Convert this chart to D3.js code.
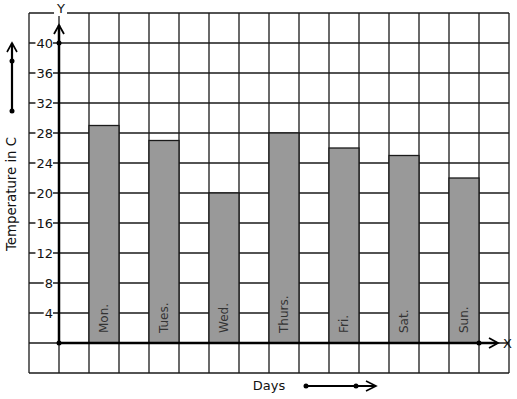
<!DOCTYPE html>
<html>
<head>
<meta charset="utf-8">
<script src="https://cdn.jsdelivr.net/npm/d3@7"></script>
<style>
  body { margin: 0; background: #fff; }
  text { font-family: "DejaVu Sans", sans-serif; }
</style>
</head>
<body>
<svg id="chart" width="517" height="399"></svg>
<script>
const days = ["Mon.", "Tues.", "Wed.", "Thurs.", "Fri.", "Sat.", "Sun."];
const temps = [29, 27, 20, 28, 26, 25, 22];
const yTicks = [4, 8, 12, 16, 20, 24, 28, 32, 36, 40];

const svg = d3.select("#chart");

// grid in column units (16 columns), value units for y
const xcol = d3.scaleLinear().domain([0, 16]).range([29, 509]);
const y = d3.scaleLinear().domain([0, 40]).range([343, 43]);

const ink = "#1a1a1a";

// grid
const grid = svg.append("g").attr("stroke", ink).attr("stroke-width", 1.3);
d3.range(0, 17).forEach(c => {
    grid.append("line")
        .attr("x1", xcol(c)).attr("x2", xcol(c))
        .attr("y1", y(44)).attr("y2", y(-4));
});
d3.range(-4, 45, 4).forEach(v => {
    grid.append("line")
        .attr("x1", xcol(0)).attr("x2", xcol(16))
        .attr("y1", y(v)).attr("y2", y(v));
});

// white backings for labels sitting on grid lines
const backs = svg.append("g");
const labels = svg.append("g");

// bars
const colOf = i => 2 + 2 * i;
svg.append("g").selectAll("rect")
    .data(temps)
    .join("rect")
    .attr("x", (d, i) => xcol(colOf(i)))
    .attr("width", xcol(1) - xcol(0))
    .attr("y", d => y(d))
    .attr("height", d => y(0) - y(d))
    .attr("fill", "#999")
    .attr("stroke", ink)
    .attr("stroke-width", 1.3);

// day labels inside bars
svg.append("g").selectAll("text")
    .data(days)
    .join("text")
    .attr("transform", (d, i) => `translate(${xcol(colOf(i) + 0.5) + 4},${y(0) - 10}) rotate(-90)`)
    .attr("font-size", 12)
    .attr("fill", "#333")
    .text(d => d);

// axes
const axes = svg.append("g").attr("stroke", "#000").attr("stroke-width", 2.5).attr("fill", "none");
axes.append("line").attr("x1", xcol(1)).attr("x2", xcol(1)).attr("y1", y(0)).attr("y2", 25);
axes.append("line").attr("x1", xcol(1)).attr("x2", 497).attr("y1", y(0)).attr("y2", y(0));
axes.append("path").attr("stroke-width", 1.8)
    .attr("d", `M${xcol(1) - 5},${34} L${xcol(1)},${25} L${xcol(1) + 5},${34}`);
axes.append("path").attr("stroke-width", 1.8)
    .attr("d", `M${489},${y(0) - 5} L${498},${y(0)} L${489},${y(0) + 5}`);

const dots = [[xcol(1), y(0)], [xcol(1), y(40)], [xcol(15), y(0)]];
svg.append("g").selectAll("circle").data(dots).join("circle")
    .attr("cx", d => d[0]).attr("cy", d => d[1]).attr("r", 2.5).attr("fill", "#000");

// tick labels with white backing
yTicks.forEach(v => {
    const t = labels.append("text")
        .attr("x", 53).attr("y", y(v) + 4.5)
        .attr("text-anchor", "end")
        .attr("font-size", 13)
        .attr("fill", "#111")
        .text(v);
    const b = t.node().getBBox();
    backs.append("rect")
        .attr("x", b.x - 1).attr("y", y(v) - 3)
        .attr("width", b.width + 1).attr("height", 6)
        .attr("fill", "#fff");
});

// axis letters
const yl = labels.append("text").attr("x", 61).attr("y", 13).attr("text-anchor", "middle")
    .attr("font-size", 13).attr("fill", "#111").text("Y");
const yb = yl.node().getBBox();
backs.append("rect").attr("x", yb.x - 2).attr("y", 10).attr("width", yb.width + 4).attr("height", 6).attr("fill", "#fff");
svg.append("text").attr("x", 503).attr("y", y(0) + 5)
    .attr("font-size", 13).attr("fill", "#111").text("X");

// axis titles
svg.append("text")
    .attr("transform", `translate(16,194) rotate(-90)`)
    .attr("text-anchor", "middle")
    .attr("font-size", 13.3).attr("fill", "#111")
    .text("Temperature in C");
svg.append("text").attr("x", 269).attr("y", 390).attr("text-anchor", "middle")
    .attr("font-size", 13).attr("fill", "#111").text("Days");

// direction arrows
const arr = svg.append("g").attr("stroke", "#000").attr("stroke-width", 2.2).attr("fill", "none");
arr.append("line").attr("x1", 12).attr("x2", 12).attr("y1", 111).attr("y2", 43);
arr.append("path").attr("stroke-width", 1.6).attr("d", "M7,52 L12,43 L17,52");
arr.append("line").attr("x1", 306).attr("x2", 375).attr("y1", 386).attr("y2", 386);
arr.append("path").attr("stroke-width", 1.6).attr("d", "M366,381 L376,386 L366,391");
svg.append("g").selectAll("circle").data([[12, 61], [12, 111], [306, 386], [356, 386]]).join("circle")
    .attr("cx", d => d[0]).attr("cy", d => d[1]).attr("r", 2.5).attr("fill", "#000");
</script>
</body>
</html>
